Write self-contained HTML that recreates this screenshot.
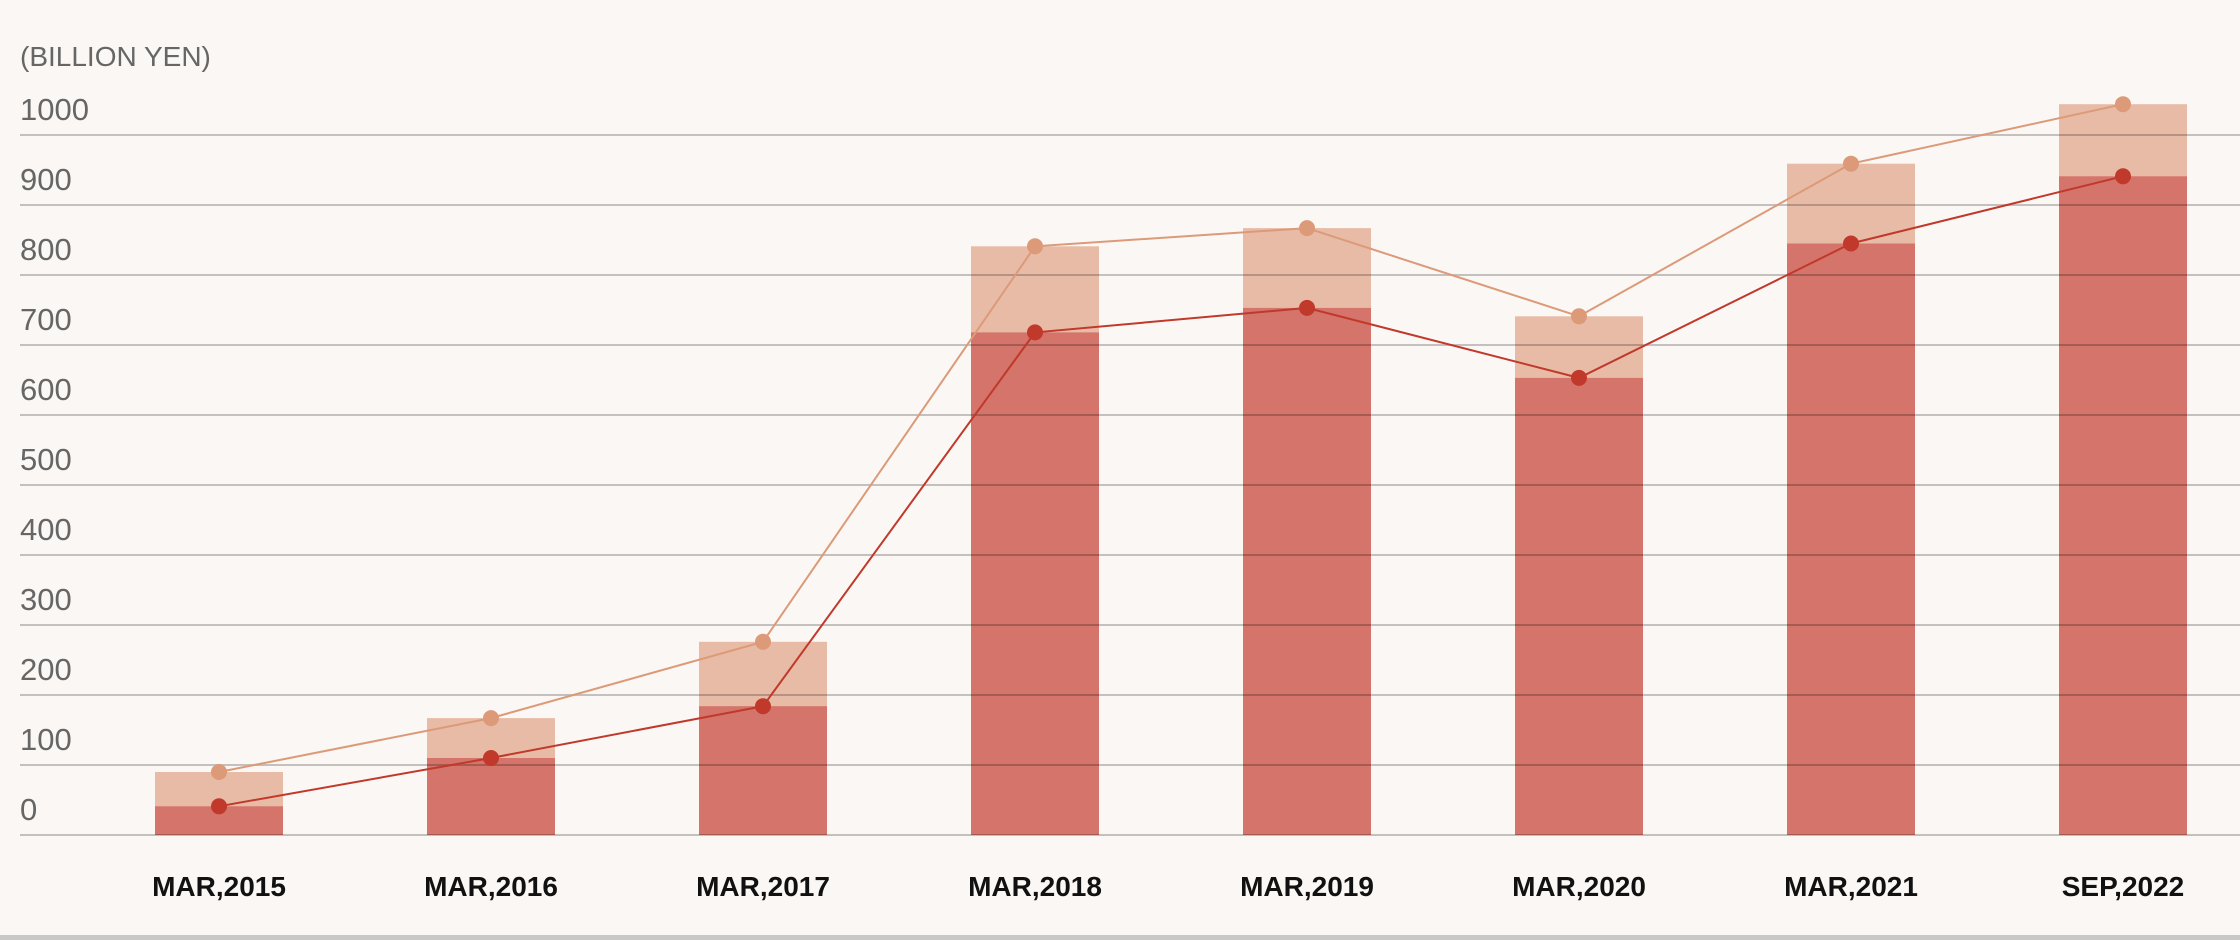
<!DOCTYPE html>
<html><head><meta charset="utf-8"><style>
html,body{margin:0;padding:0;background:#faf7f4;}
svg{display:block;}
</style></head><body>
<svg width="2240" height="940" xmlns="http://www.w3.org/2000/svg" font-family="Liberation Sans, sans-serif">
<rect width="2240" height="940" fill="#faf7f4"/>
<rect x="0" y="935" width="2240" height="5" fill="#c8c8c8"/>
<text x="20" y="66" font-size="28" fill="#666">(BILLION YEN)</text>
<g font-size="31" fill="#666">
<text x="20" y="120">1000</text><text x="20" y="190">900</text><text x="20" y="260">800</text>
<text x="20" y="330">700</text><text x="20" y="400">600</text><text x="20" y="470">500</text>
<text x="20" y="540">400</text><text x="20" y="610">300</text><text x="20" y="680">200</text>
<text x="20" y="750">100</text><text x="20" y="820">0</text>
</g>
<g id="bars"></g>
<g stroke="rgba(0,0,0,0.22)" stroke-width="2">
<line x1="20" x2="2240" y1="135" y2="135"/><line x1="20" x2="2240" y1="205" y2="205"/>
<line x1="20" x2="2240" y1="275" y2="275"/><line x1="20" x2="2240" y1="345" y2="345"/>
<line x1="20" x2="2240" y1="415" y2="415"/><line x1="20" x2="2240" y1="485" y2="485"/>
<line x1="20" x2="2240" y1="555" y2="555"/><line x1="20" x2="2240" y1="625" y2="625"/>
<line x1="20" x2="2240" y1="695" y2="695"/><line x1="20" x2="2240" y1="765" y2="765"/>
<line x1="20" x2="2240" y1="835" y2="835"/>
</g>
<g id="lines"></g>
<g font-size="28" font-weight="bold" fill="#111" text-anchor="middle">
<text x="219" y="896">MAR,2015</text><text x="491" y="896">MAR,2016</text>
<text x="763" y="896">MAR,2017</text><text x="1035" y="896">MAR,2018</text>
<text x="1307" y="896">MAR,2019</text><text x="1579" y="896">MAR,2020</text>
<text x="1851" y="896">MAR,2021</text><text x="2123" y="896">SEP,2022</text>
</g>
<script>
var L=[90,167,276,841,867,741,959,1044],D=[41,110,184,718,753,653,845,941];
var ns="http://www.w3.org/2000/svg",b=document.getElementById('bars'),l=document.getElementById('lines');
function y(v){return 835-v*0.7;}
function el(p,t,a){var e=document.createElementNS(ns,t);for(var k in a)e.setAttribute(k,a[k]);p.appendChild(e);}
var pl="",pd="";
for(var i=0;i<8;i++){var cx=219+272*i;
el(b,'rect',{x:cx-64,y:y(L[i]),width:128,height:835-y(L[i]),fill:'#e8bba6'});
el(b,'rect',{x:cx-64,y:y(D[i]),width:128,height:835-y(D[i]),fill:'#d4746a'});
pl+=cx+","+y(L[i])+" ";pd+=cx+","+y(D[i])+" ";}
el(l,'polyline',{points:pl,fill:'none',stroke:'#dc9a78','stroke-width':2});
el(l,'polyline',{points:pd,fill:'none',stroke:'#c0392b','stroke-width':2});
for(var i=0;i<8;i++){var cx=219+272*i;
el(l,'circle',{cx:cx,cy:y(L[i]),r:8,fill:'#dc9a78'});
el(l,'circle',{cx:cx,cy:y(D[i]),r:8,fill:'#c0392b'});}
</script>
</svg>
</body></html>
